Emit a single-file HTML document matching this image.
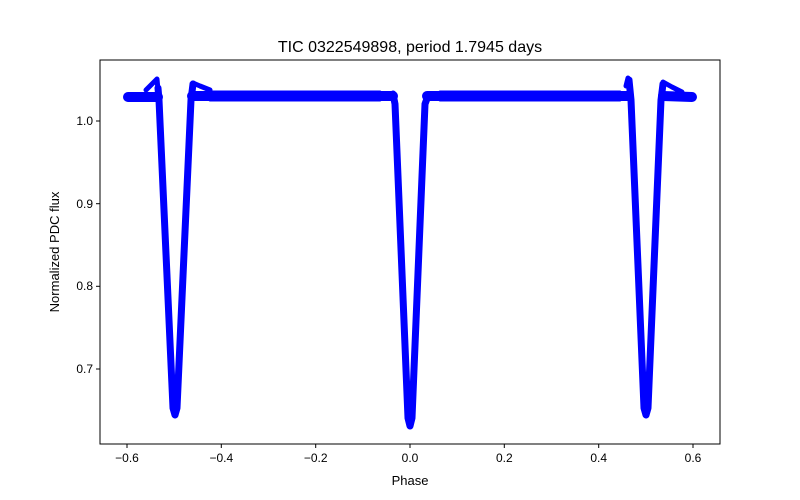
<!DOCTYPE html>
<html><head><meta charset="utf-8"><style>
body{margin:0;background:#fff;}
svg{display:block;font-family:"Liberation Sans",sans-serif;}
</style></head><body>
<svg width="800" height="500" viewBox="0 0 800 500">
<rect width="800" height="500" fill="#fff"/>
<text x="410" y="52" font-size="16" text-anchor="middle">TIC 0322549898, period 1.7945 days</text>
<g fill="none" stroke="#0000ff" stroke-linejoin="round" stroke-linecap="round">
<path stroke-width="10" d="M128,97 L158,97 M192,96 L393,96 M427,96 L629,96 M663,96 L692,97"/>
<path stroke-width="3" d="M210,92 L380,92 M440,92 L620,92 M210,100 L380,100 M440,100 L620,100"/>
<path stroke-width="5" d="M146,90 L157,79 L158,90 M193,83 L200,86 L210,90 M626,86 L628,78 M663,82 L672,87 L682,92"/>
<path stroke-width="7" d="M158,88 L159,100 L173,408 L175,415 L177,408 L191,100 L193,84"/>
<path stroke-width="7" d="M393,94 L395,104 L408,418 L410,426 L412,418 L425,104 L428,96"/>
<path stroke-width="7" d="M629,80 L631,100 L644,408 L646,415 L648,408 L661,100 L663,84"/>
</g>
<rect x="100" y="60" width="620" height="384" fill="none" stroke="#000" stroke-width="1"/>
<g stroke="#000" stroke-width="1">
<line x1="127" y1="444" x2="127" y2="448"/><line x1="221.3" y1="444" x2="221.3" y2="448"/>
<line x1="315.7" y1="444" x2="315.7" y2="448"/><line x1="410" y1="444" x2="410" y2="448"/>
<line x1="504.3" y1="444" x2="504.3" y2="448"/><line x1="598.7" y1="444" x2="598.7" y2="448"/>
<line x1="693" y1="444" x2="693" y2="448"/>
<line x1="96" y1="121" x2="100" y2="121"/><line x1="96" y1="203.7" x2="100" y2="203.7"/>
<line x1="96" y1="286.3" x2="100" y2="286.3"/><line x1="96" y1="369" x2="100" y2="369"/>
</g>
<g font-size="12" text-anchor="middle">
<text x="127" y="462">−0.6</text><text x="221.3" y="462">−0.4</text><text x="315.7" y="462">−0.2</text>
<text x="410" y="462">0.0</text><text x="504.3" y="462">0.2</text><text x="598.7" y="462">0.4</text><text x="693" y="462">0.6</text>
<text x="410" y="485" font-size="13">Phase</text>
</g>
<g font-size="12" text-anchor="end">
<text x="93" y="125">1.0</text><text x="93" y="208">0.9</text><text x="93" y="290">0.8</text><text x="93" y="373">0.7</text>
</g>
<text transform="translate(59,252) rotate(-90)" font-size="13" text-anchor="middle">Normalized PDC flux</text>
</svg>
</body></html>
